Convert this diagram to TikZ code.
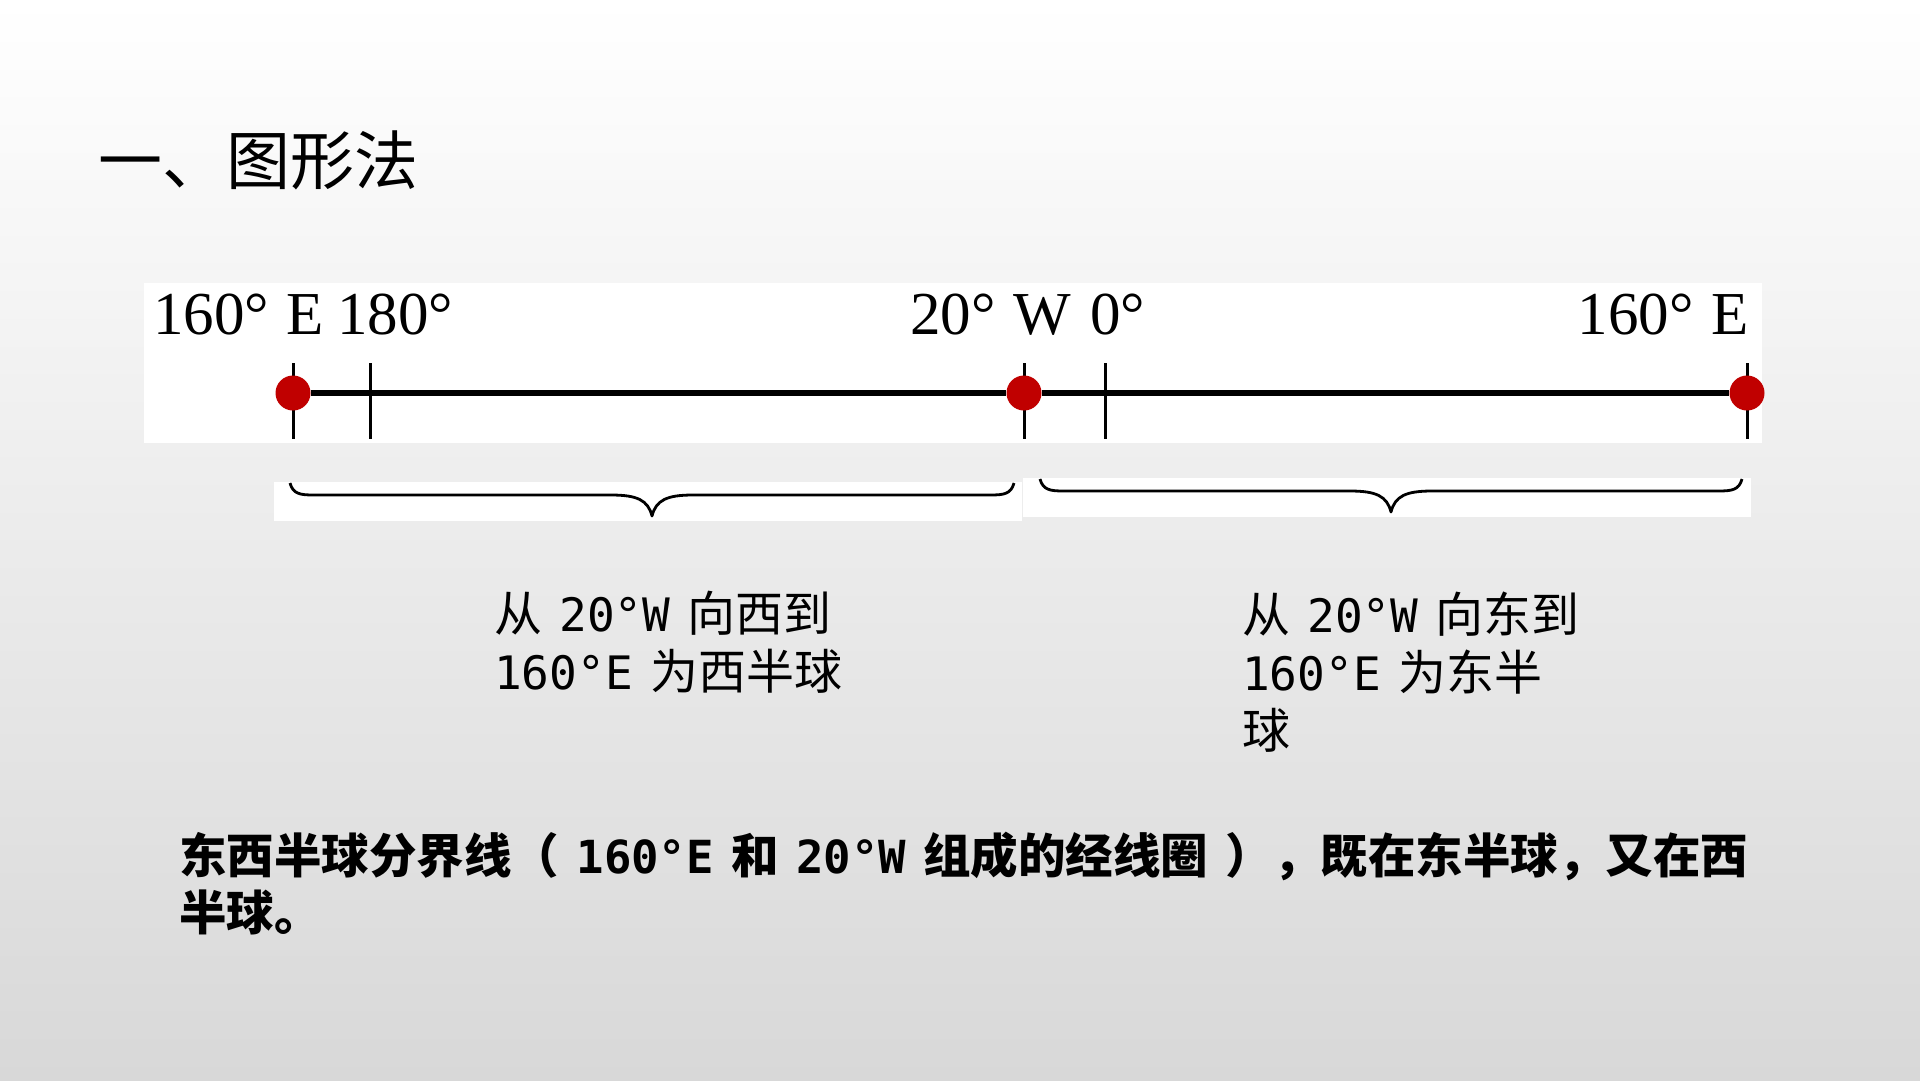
\documentclass[tikz,border=0pt]{standalone}
\usepackage{fontspec}
\setmainfont{Liberation Serif}
\newfontfamily\cjkfont[WordSpace=1.6]{Noto Sans CJK SC}
\newfontfamily\monofont[Scale=0.96]{DejaVu Sans Mono}
\definecolor{dotred}{RGB}{192,0,0}
\definecolor{bgbot}{RGB}{216,216,216}
\newcommand{\Mn}[1]{{\monofont #1}}
\newcommand{\Dg}{°\hspace{0.29em}}
% curly brace under the axis: left x, right x, top y
\newcommand{\HBrace}[3]{%
  \draw[brc] (#1,#3) .. controls ({#1+3},{#3+11}) and ({#1+10},{#3+12}) .. ({#1+24},{#3+12})
    -- ({(#1+#2)/2-41},{#3+12}) .. controls ({(#1+#2)/2-15},{#3+12}) and ({(#1+#2)/2-4},{#3+17}) .. ({(#1+#2)/2},{#3+33})
    .. controls ({(#1+#2)/2+4},{#3+17}) and ({(#1+#2)/2+15},{#3+12}) .. ({(#1+#2)/2+41},{#3+12})
    -- ({#2-24},{#3+12}) .. controls ({#2-10},{#3+12}) and ({#2-3},{#3+11}) .. (#2,#3);}
\tikzset{
  pan/.style={fill=white, draw=none},
  lonlbl/.style={font=\fontsize{61}{61}\selectfont, inner sep=0pt, anchor=base west},
  axisln/.style={line width=5.5pt, black},
  tickln/.style={line width=3pt, black},
  gdot/.style={circle, fill=dotred, inner sep=0pt, minimum size=35pt},
  brc/.style={line width=2.8pt, line join=round, black},
  note/.style={font=\cjkfont\fontsize{48}{58}\selectfont, inner sep=0pt, anchor=north west, align=left},
}
\begin{document}
\begin{tikzpicture}[x=1pt, y=-1pt]
  \shade[top color=white, bottom color=bgbot] (0,0) rectangle (1920,1080);
  \useasboundingbox (0,0) rectangle (1920,1080);
  \node[font=\cjkfont\fontsize{64}{64}\selectfont, inner sep=0pt, anchor=base west] (title) at (98,184) {一、图形法};

  \fill[pan] (144,283) rectangle (1762,443);
  \fill[pan] (274,482) rectangle (1022,521);
  \fill[pan] (1023,478) rectangle (1751,517);

  \foreach \x in {293,370,1024,1105,1747}
    \draw[tickln] (\x,363) -- (\x,439);
  \node[gdot] (e160l) at (293,393) {};
  \node[gdot] (w20) at (1024,393) {};
  \node[gdot] (e160r) at (1747,393) {};
  \draw[axisln] (e160l) -- (w20);
  \draw[axisln] (w20) -- (e160r);

  \node[lonlbl] (l160l) at (153,334) {160\Dg E};
  \node[lonlbl] (l180) at (337,334) {180°};
  \node[lonlbl] (l20w) at (910,334) {20\Dg W};
  \node[lonlbl] (l0) at (1090,334) {0°};
  \node[lonlbl, anchor=base east] (l160r) at (1749,334) {160\Dg E};

  \HBrace{290}{1014}{483}
  \HBrace{1040}{1742}{479}

  \node[note] (westtxt) at (494,591) {从 \Mn{20°W} 向西到\\\Mn{160°E} 为西半球};
  \node[note] (easttxt) at (1242,592) {从 \Mn{20°W} 向东到\\\Mn{160°E} 为东半\\球};
  \node[note, font=\cjkfont\bfseries\fontsize{47.5}{57}\selectfont] (sumtxt) at (179,832)
    {东西半球分界线（ \Mn{160°E} 和 \Mn{20°W} 组成的经线圈 ），既在东半球，又在西\\半球。};
\end{tikzpicture}
\end{document}
